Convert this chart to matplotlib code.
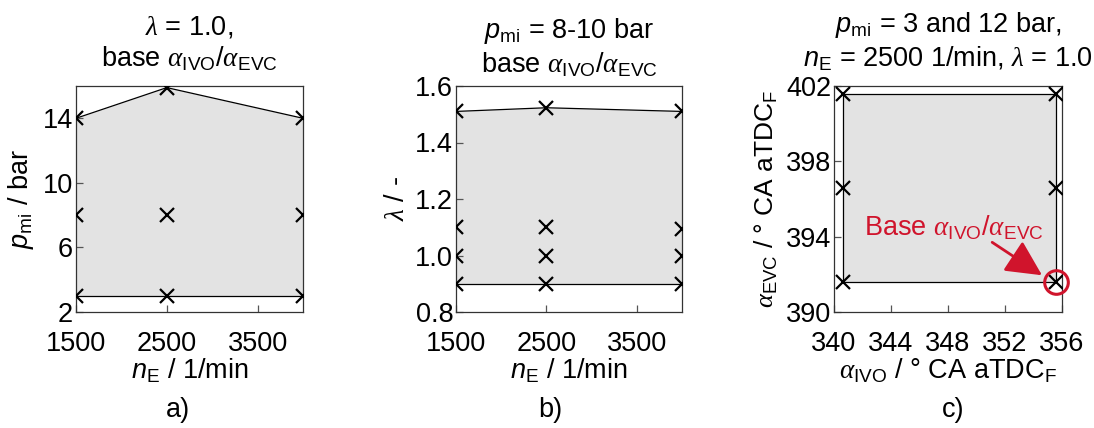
import numpy as np
import matplotlib
matplotlib.use('Agg')
import matplotlib.pyplot as plt
from matplotlib.patches import FancyArrowPatch

plt.rcParams['font.family'] = ['Liberation Sans', 'DejaVu Sans']
plt.rcParams['mathtext.fontset'] = 'custom'
plt.rcParams['mathtext.rm'] = 'Liberation Sans'
plt.rcParams['mathtext.it'] = 'Liberation Sans:italic'
plt.rcParams['mathtext.sf'] = 'Liberation Serif:italic'
FS = 19.5
plt.rcParams['font.size'] = FS

# a) engine speed / load map at lambda = 1.0
n_a = [1500, 2500, 4000]
p_top = [14.0, 15.9, 14.0]
p_mid = [8.0, 8.0, 8.0]
p_bot = [3.0, 3.0, 3.0]

# b) engine speed / lambda map at pmi = 8-10 bar
n_b = [1500, 2500, 4000]
lam_top = [1.51, 1.523, 1.51]
lam_11 = [1.1, 1.1, 1.095]
lam_10 = [1.0, 1.0, 1.0]
lam_bot = [0.9, 0.9, 0.9]

# c) valve timing variation
ivo = [340.6, 355.6]
evc_top = [401.6, 401.6]
evc_mid = [396.6, 396.6]
evc_bot = [391.6, 391.6]
base_pt = (355.6, 391.6)

fill_c = '#e3e3e3'
red = '#d0142c'
aIVO = r'$\mathsf{\alpha}_\mathrm{IVO}$'
aEVC = r'$\mathsf{\alpha}_\mathrm{EVC}$'
lam = r'$\mathsf{\lambda}$'

W, H = 1094, 428
fig = plt.figure(figsize=(W/100, H/100), dpi=100)

def box(l, r):
    return [l/W, 1-312/H, (r-l)/W, (312-86)/H]

axa = fig.add_axes(box(76, 303))
axb = fig.add_axes(box(456, 682))
axc = fig.add_axes(box(834, 1062))

mk = dict(marker='x', ms=10, mew=1.6, color='k', ls='none', clip_on=True, zorder=4)

def style(ax):
    for s in ax.spines.values():
        s.set_color('#333333')
        s.set_linewidth(0.9)
    ax.tick_params(direction='in', length=5, width=0.9, color='#555555',
                   top=False, right=False)
    ax.tick_params(axis='x', pad=14)
    ax.tick_params(axis='y', pad=2)

# panel a
axa.fill_between(n_a, p_bot, p_top, color=fill_c, lw=0, zorder=1)
axa.plot(n_a, p_top, color='k', lw=0.9, zorder=3)
axa.plot(n_a, p_bot, color='k', lw=0.9, zorder=3)
for ys in (p_top, p_mid, p_bot):
    axa.plot(n_a, ys, **mk)
axa.set_xlim(1500, 4000)
axa.set_ylim(2, 16)
axa.set_xticks([1500, 2500, 3500])
axa.set_yticks([2, 6, 10, 14])
axa.set_xlabel(r'$n_\mathrm{E}$ / 1/min', labelpad=-1)
axa.set_ylabel(r'$p_\mathrm{mi}$ / bar', labelpad=5)
axa.set_title(lam + ' = 1.0,\nbase ' + aIVO + '/' + aEVC, fontsize=FS, pad=14)
style(axa)

# panel b
axb.fill_between(n_b, lam_bot, lam_top, color=fill_c, lw=0, zorder=1)
axb.plot(n_b, lam_top, color='k', lw=0.9, zorder=3)
axb.plot(n_b, lam_bot, color='k', lw=0.9, zorder=3)
for ys in (lam_top, lam_11, lam_10, lam_bot):
    axb.plot(n_b, ys, **mk)
axb.set_xlim(1500, 4000)
axb.set_ylim(0.8, 1.6)
axb.set_xticks([1500, 2500, 3500])
axb.set_yticks([0.8, 1.0, 1.2, 1.4, 1.6])
axb.set_xlabel(r'$n_\mathrm{E}$ / 1/min', labelpad=-1)
axb.set_ylabel(lam + ' / -', labelpad=4)
axb.set_title(r'$p_\mathrm{mi}$ = 8-10 bar' + '\nbase ' + aIVO + '/' + aEVC, fontsize=FS, pad=10)
style(axb)

# panel c
axc.fill_between(ivo, evc_bot, evc_top, color=fill_c, lw=0, zorder=1)
axc.plot([ivo[0], ivo[1], ivo[1], ivo[0], ivo[0]],
         [evc_bot[0], evc_bot[1], evc_top[1], evc_top[0], evc_bot[0]],
         color='k', lw=0.9, zorder=3)
for ys in (evc_top, evc_mid, evc_bot):
    axc.plot(ivo, ys, **mk)
axc.plot(*base_pt, marker='o', ms=17, mfc='none', mec=red, mew=2.2, zorder=5, clip_on=False)
axc.text(348.4, 394.5, 'Base ' + aIVO + '/' + aEVC, color=red, fontsize=FS,
         ha='center', va='center', zorder=6)
axc.add_patch(FancyArrowPatch((351.1, 393.7), (354.6, 391.95),
                              arrowstyle='-|>,head_length=1.0,head_width=0.5',
                              mutation_scale=22, color=red, lw=2,
                              shrinkA=0, shrinkB=0, zorder=6))
axc.set_xlim(340, 356)
axc.set_ylim(390, 402)
axc.set_xticks([340, 344, 348, 352, 356])
axc.set_yticks([390, 394, 398, 402])
axc.set_xlabel(aIVO + r' / ° CA aTDC$_\mathrm{F}$', labelpad=-1)
axc.set_ylabel(aEVC + r' / ° CA aTDC$_\mathrm{F}$', labelpad=4, fontsize=19)
axc.set_title(r'$p_\mathrm{mi}$ = 3 and 12 bar,' + '\n' + r'$n_\mathrm{E}$ = 2500 1/min, ' + lam + ' = 1.0',
              fontsize=FS, pad=14)
style(axc)

fig.text(178/W, 1-410/H, 'a)', ha='center', va='center', fontsize=FS)
fig.text(550/W, 1-410/H, 'b)', ha='center', va='center', fontsize=FS)
fig.text(953/W, 1-410/H, 'c)', ha='center', va='center', fontsize=FS)

fig.savefig('out.png', dpi=100)
